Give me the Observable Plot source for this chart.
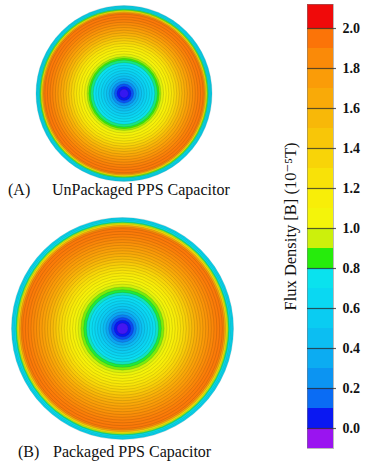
<!DOCTYPE html>
<html>
<head>
<meta charset="utf-8">
<script src="https://cdn.jsdelivr.net/npm/d3@7"></script>
<script src="https://cdn.jsdelivr.net/npm/@observablehq/plot@0.6"></script>
<style>
  html, body { margin: 0; padding: 0; background: #fff; }
  #wrap { position: relative; width: 367px; height: 462px; overflow: hidden; font-family: "Liberation Serif", Tinos, "Times New Roman", "DejaVu Serif", serif; }
  #wrap > div.slot { position: absolute; }
  .cap { position: absolute; font-size: 16px; line-height: 16px; white-space: pre; color: #111; }
</style>
</head>
<body>
<div id="wrap">
  <div class="slot" id="circA" style="left:0px; top:0px;"></div>
  <div class="slot" id="circB" style="left:0px; top:208px;"></div>
  <div class="slot" id="bar" style="left:250px; top:0px;"></div>
  <div class="cap" style="left:8px; top:182px;">(A)</div>
  <div class="cap" style="left:52px; top:182px;">UnPackaged PPS Capacitor</div>
  <div class="cap" style="left:18px; top:444px;">(B)</div>
  <div class="cap" style="left:53px; top:444px;">Packaged PPS Capacitor</div>
</div>
<script>
// ---- colour bar bands (flux density, 10^-5 T) ----
const bandLo = [-0.1, 0.0, 0.1, 0.2, 0.3, 0.4, 0.5, 0.6, 0.7, 0.8, 0.9, 1.0, 1.1, 1.2, 1.3, 1.4, 1.5, 1.6, 1.7, 1.8, 1.9, 2.0];
const bandHi = [0.0, 0.1, 0.2, 0.3, 0.4, 0.5, 0.6, 0.7, 0.8, 0.9, 1.0, 1.1, 1.2, 1.3, 1.4, 1.5, 1.6, 1.7, 1.8, 1.9, 2.0, 2.12];
const bandColors = ["#9a14f0", "#0a18f2", "#0a6cf4", "#0c94f2", "#0cacf2", "#0cbef2", "#0accf2", "#0ad8f2", "#0ae2ee", "#26ec0c", "#ccf00c",
                    "#f4f40a", "#f8ee08", "#f8e208", "#f8d408", "#f8c608", "#f8b808", "#f9aa08", "#fa9c08", "#fa8a08", "#fb7408", "#f00a0a"];
const tickValues = [0.0, 0.2, 0.4, 0.6, 0.8, 1.0, 1.2, 1.4, 1.6, 1.8, 2.0];
const barLabel = "Flux Density [B] (10\u207B\u2075T)";

// ---- radial profiles (r as fraction of radius) ----
const radiusA = [0.05, 0.08, 0.11, 0.14, 0.17, 0.20, 0.23, 0.26, 0.29, 0.32, 0.35, 0.38, 0.40, 0.42, 0.45, 0.48, 0.51, 0.54, 0.57, 0.60, 0.63, 0.66, 0.69, 0.72, 0.75, 0.78, 0.81, 0.84, 0.87, 0.90, 0.915, 0.93, 0.942, 0.952, 0.962, 0.975, 0.988, 1.0];
const fluxA   = [0.02, 0.05, 0.12, 0.24, 0.36, 0.45, 0.52, 0.58, 0.63, 0.68, 0.74, 0.80, 0.86, 0.92, 1.00, 1.07, 1.13, 1.19, 1.26, 1.34, 1.43, 1.52, 1.60, 1.67, 1.74, 1.80, 1.85, 1.89, 1.92, 1.93, 1.90, 1.68, 1.20, 0.90, 0.78, 0.72, 0.67, 0.64];
const radiusB = [0.05, 0.075, 0.10, 0.125, 0.15, 0.175, 0.20, 0.225, 0.25, 0.275, 0.30, 0.325, 0.35, 0.375, 0.40, 0.425, 0.45, 0.475, 0.50, 0.525, 0.55, 0.575, 0.60, 0.625, 0.65, 0.675, 0.70, 0.725, 0.75, 0.775, 0.80, 0.825, 0.85, 0.875, 0.90, 0.915, 0.93, 0.942, 0.952, 0.962, 0.975, 0.988, 1.0];
const fluxB   = [0.01, 0.05, 0.11, 0.20, 0.32, 0.42, 0.50, 0.56, 0.61, 0.66, 0.71, 0.77, 0.83, 0.90, 0.97, 1.03, 1.08, 1.13, 1.18, 1.23, 1.29, 1.35, 1.42, 1.49, 1.56, 1.62, 1.67, 1.72, 1.76, 1.80, 1.84, 1.87, 1.90, 1.92, 1.93, 1.90, 1.70, 1.25, 0.95, 0.80, 0.72, 0.67, 0.64];

const bandMid = bandLo.map((lo, i) => (lo + bandHi[i]) / 2);
const colorScale = {type: "linear", domain: bandMid, range: bandColors, clamp: true};

function rings(radius, flux) {
  return radius.map((r, i) => ({r, v: flux[i]})).sort((a, b) => b.r - a.r);
}

function circle(radius, flux, w, h, R) {
  return Plot.plot({
    width: w, height: h, margin: 0,
    r: {type: "linear", domain: [0, 1], range: [0, R]},
    color: colorScale,
    style: {background: "transparent"},
    marks: [
      Plot.dot(rings(radius, flux), {r: "r", fill: "v", stroke: "#1a1a1a", strokeOpacity: 0.27, strokeWidth: 0.5, frameAnchor: "middle"})
    ]
  });
}

document.getElementById("circA").append(circle(radiusA, fluxA, 247, 186, 88));
document.getElementById("circB").append(circle(radiusB, fluxB, 244, 240, 111));

const bands = bandLo.map((lo, i) => ({lo, hi: bandHi[i], mid: bandMid[i]}));
const bar = Plot.plot({
  width: 117, height: 462,
  marginLeft: 57, marginRight: 34, marginTop: 4, marginBottom: 14,
  y: {domain: [-0.1, 2.12]},
  color: colorScale,
  style: {fontFamily: "'Liberation Serif', Tinos, 'Times New Roman', 'DejaVu Serif', serif", background: "transparent", color: "#111"},
  marks: [
    Plot.rect(bands, {y1: "lo", y2: "hi", fill: "mid"}),
    Plot.frame({stroke: "#777", strokeOpacity: 0.5}),
    Plot.ruleY(tickValues, {stroke: "#2a2a2a", strokeWidth: 1.2, strokeOpacity: 0.75, insetRight: -3}),
    Plot.axisY({anchor: "right", ticks: tickValues, tickFormat: d3.format(".1f"), tickSize: 0, tickPadding: 9, fontSize: 14, fontWeight: "bold", label: null}),
    Plot.text([barLabel], {frameAnchor: "left", rotate: -90, dx: -17, textAnchor: "middle", fontSize: 16.5})
  ]
});
document.getElementById("bar").append(bar);
</script>
</body>
</html>
